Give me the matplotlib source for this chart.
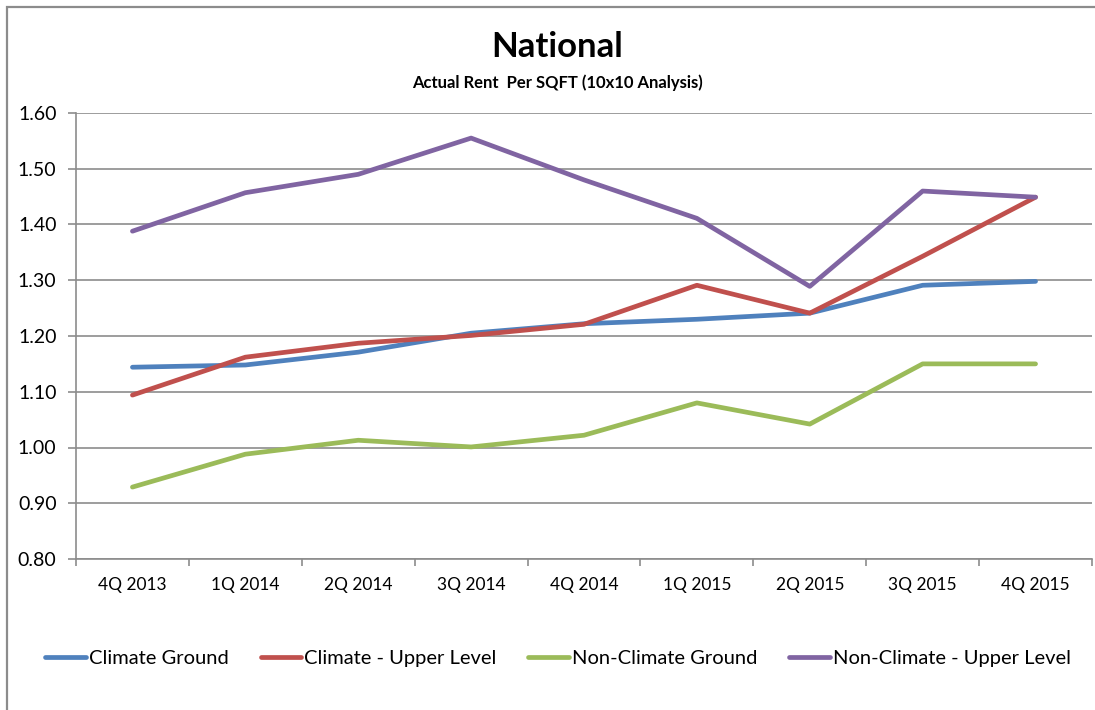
import matplotlib
matplotlib.use("Agg")
from matplotlib import pyplot as plt
from matplotlib.patches import Rectangle

plt.rcParams['font.family'] = ['Lato', 'DejaVu Sans']

quarters = ['4Q 2013', '1Q 2014', '2Q 2014', '3Q 2014', '4Q 2014',
            '1Q 2015', '2Q 2015', '3Q 2015', '4Q 2015']

climate_ground = [1.144, 1.148, 1.171, 1.205, 1.222, 1.230, 1.241, 1.291, 1.298]
climate_upper = [1.094, 1.162, 1.187, 1.201, 1.221, 1.291, 1.241, 1.343, 1.449]
non_climate_ground = [0.929, 0.988, 1.013, 1.001, 1.022, 1.080, 1.042, 1.150, 1.150]
non_climate_upper = [1.388, 1.457, 1.490, 1.555, 1.480, 1.411, 1.289, 1.460, 1.449]

series = [
    ('Climate Ground', climate_ground, '#4F81BD'),
    ('Climate - Upper Level', climate_upper, '#C0504D'),
    ('Non-Climate Ground', non_climate_ground, '#9BBB59'),
    ('Non-Climate - Upper Level', non_climate_upper, '#8064A2'),
]

W, H = 1095, 710
fig = plt.figure(figsize=(W / 100, H / 100), dpi=100)

# chart frame (only left/top edges fall inside the canvas)
fig.patches.append(Rectangle((7 / W, -0.1), 1.2, 1 - 7 / H + 0.1,
                             transform=fig.transFigure, fill=False,
                             edgecolor='#8c8c8c', linewidth=1.6))

ax = fig.add_axes([76 / W, 1 - 559 / H, (1092 - 76) / W, (559 - 113) / H])

x = list(range(len(quarters)))
for name, vals, color in series:
    ax.plot(x, vals, color=color, linewidth=3.4, label=name,
            solid_capstyle='round', solid_joinstyle='round')

ax.set_xlim(-0.5, len(quarters) - 0.5)
ax.set_ylim(0.80, 1.60)
ax.set_yticks([0.80 + 0.1 * i for i in range(9)])
ax.set_yticklabels(['%.2f' % (0.80 + 0.1 * i) for i in range(9)], fontsize=14)
ax.set_xticks(x)
ax.set_xticklabels(quarters, fontsize=12.5)
ax.set_xticks([i - 0.5 for i in range(len(quarters) + 1)], minor=True)
ax.tick_params(axis='x', which='major', length=0, pad=13)
ax.tick_params(axis='x', which='minor', length=5, color='#8c8c8c', width=1.2)
ax.tick_params(axis='y', length=6, color='#8c8c8c', width=1.2, pad=8)

ax.grid(axis='y', color='#8c8c8c', linewidth=1.2)
ax.set_axisbelow(True)
for side in ['top', 'right']:
    ax.spines[side].set_visible(False)
for side in ['left', 'bottom']:
    ax.spines[side].set_color('#8c8c8c')
    ax.spines[side].set_linewidth(1.2)

fig.text(557 / W, 1 - 47 / H, 'National', ha='center', va='center',
         fontsize=25, fontweight='bold')
fig.text(557 / W, 1 - 83 / H, 'Actual Rent  Per SQFT (10x10 Analysis)',
         ha='center', va='center', fontsize=12, fontweight='bold')

fig.legend(loc='center', bbox_to_anchor=(558 / W, 1 - 658 / H), ncol=4,
           frameon=False, fontsize=14.5, handlelength=2.0, handletextpad=0.15,
           columnspacing=1.6)

fig.savefig('out.png', dpi=100)
